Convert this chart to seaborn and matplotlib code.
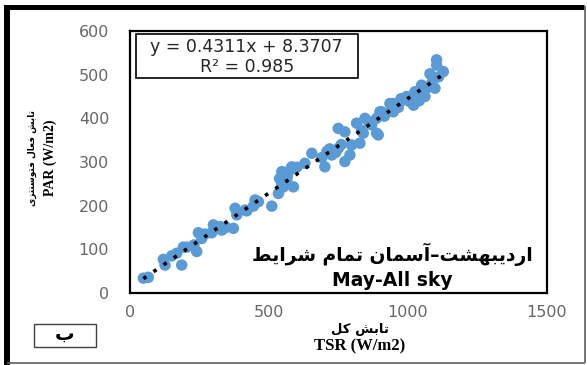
import matplotlib
matplotlib.use("Agg")
import matplotlib.pyplot as plt
import seaborn as sns
import pandas as pd
from matplotlib.patches import Rectangle
from matplotlib.lines import Line2D

# ---------------- data ----------------
tsr = [48, 66, 120, 126, 150, 168, 186, 192, 204, 230, 240, 246, 258, 270, 294,
       300, 310, 324, 330, 345, 372, 378, 384, 414, 420, 444, 462, 450, 510, 534,
       538, 546, 552, 560, 564, 546, 576, 588, 582, 566, 600, 629, 654, 690, 701,
       708, 718, 726, 740, 749, 749, 760, 773, 773, 791, 797, 815, 827, 839, 833,
       845, 860, 869, 887, 887, 893, 899, 905, 915, 935, 941, 947, 947, 960, 975,
       983, 995, 1007, 1025, 1030, 1049, 1055, 1061, 1068, 1079, 1085, 1090, 1097,
       1103, 1103, 1127, 1110, 1040, 1020, 965]
par = [34, 36, 77, 64, 85, 91, 64, 105, 105, 110, 95, 138, 125, 135, 138,
       156, 150, 152, 144, 150, 148, 194, 179, 190, 188, 199, 209, 213, 199, 228,
       262, 250, 243, 275, 259, 278, 282, 243, 289, 268, 288, 297, 320, 310, 289,
       324, 330, 316, 322, 331, 377, 340, 369, 301, 316, 339, 389, 343, 366, 373,
       400, 392, 385, 366, 400, 362, 415, 415, 405, 434, 423, 434, 415, 432, 445,
       442, 450, 438, 461, 452, 476, 461, 450, 470, 502, 480, 490, 469,
       534, 522, 507, 495, 440, 430, 425]
x_ticks = [0, 500, 1000, 1500]
y_ticks = [0, 100, 200, 300, 400, 500, 600]

eq_text = "y = 0.4311x + 8.3707"
r2_text = "R\u00b2 = 0.985"

# Persian texts (presentation forms, logical order; reversed for display)
ylab_fa = ("\uFE97\uFE8E\uFE91\uFEB6 \uFED3\uFECC\uFE8E\uFEDD "
           "\uFED3\uFE98\uFEEE\uFEB3\uFEE8\uFE98\uFEB0\uFBFC")
ylab_en = "PAR (W/m2)"
xlab_fa = "\uFE97\uFE8E\uFE91\uFEB6 \uFB90\uFEDE"
xlab_en = "TSR (W/m2)"
title_fa = ("\uFE8D\uFEAD\uFEA9\uFBFE\uFE92\uFEEC\uFEB8\uFE96\u2013"
            "\uFE81\uFEB3\uFEE4\uFE8E\uFEE5 \uFE97\uFEE4\uFE8E\uFEE1 "
            "\uFEB7\uFEAE\uFE8D\uFBFE\uFEC2")
title_en = "May-All sky"
panel_fa = "\uFE8F"


def vis(s):
    return s[::-1]


df = pd.DataFrame({"TSR": tsr, "PAR": par})

sns.set_style("white")
plt.rcParams["font.family"] = ["DejaVu Sans"]

W, H = 587, 365
fig = plt.figure(figsize=(W / 100, H / 100), dpi=100)
ax = fig.add_axes([130 / W, 1 - 293 / H, 417 / W, 262 / H])

sns.regplot(data=df, x="TSR", y="PAR", ax=ax, ci=None,
            scatter_kws=dict(s=68, color="#5B9BD5", edgecolor="none", alpha=1, zorder=2),
            line_kws=dict(color="black", linestyle=(0, (1, 2.4)), linewidth=2.6, zorder=3))

ax.set_xlim(0, 1500)
ax.set_ylim(0, 600)
ax.set_xticks(x_ticks)
ax.set_yticks(y_ticks)
ax.set_xticklabels([str(v) for v in x_ticks])
ax.set_yticklabels([str(v) for v in y_ticks])
ax.tick_params(length=0, labelsize=11.5, labelcolor="#666666")
ax.tick_params(axis="y", pad=15)
ax.tick_params(axis="x", pad=8.5)
ax.set_xlabel("")
ax.set_ylabel("")
for sp in ax.spines.values():
    sp.set_visible(True)
    sp.set_color("black")
    sp.set_linewidth(1.6)

# equation box
ax.add_patch(Rectangle((0.014, 0.821), 0.533, 0.168, transform=ax.transAxes,
                       facecolor="white", edgecolor="black", linewidth=1.2, zorder=4))
ax.text(0.28, 0.938, eq_text, transform=ax.transAxes, ha="center", va="center",
        fontsize=12.5, color="#262626", zorder=5)
ax.text(0.28, 0.862, r2_text, transform=ax.transAxes, ha="center", va="center",
        fontsize=12.5, color="#262626", zorder=5)

# in-plot titles
ax.text(0.63, 0.149, vis(title_fa), transform=ax.transAxes, ha="center", va="center",
        fontsize=13.5, fontweight="bold", color="black", zorder=5)
ax.text(0.63, 0.046, title_en, transform=ax.transAxes, ha="center", va="center",
        fontsize=13.5, fontweight="bold", color="black", zorder=5)

# axis labels
fig.text(32 / W, 1 - 158 / H, vis(ylab_fa), rotation=90, ha="center", va="center",
         fontsize=6.5, fontweight="bold", color="black")
fig.text(50 / W, 1 - 158 / H, ylab_en, rotation=90, ha="center", va="center",
         fontsize=10, fontweight="bold", color="black", family="Liberation Serif")
fig.text(360 / W, 1 - 330 / H, vis(xlab_fa), ha="center", va="center",
         fontsize=9.5, fontweight="bold", color="black")
fig.text(360 / W, 1 - 346 / H, xlab_en, ha="center", va="center",
         fontsize=12, fontweight="bold", color="black", family="Liberation Serif")

# panel letter box
fig.patches.append(Rectangle((34 / W, 1 - 347 / H), 62 / W, 23 / H,
                             transform=fig.transFigure, facecolor="white",
                             edgecolor="#404040", linewidth=1.0))
fig.text(65 / W, 1 - 334 / H, panel_fa, ha="center", va="center",
         fontsize=14, fontweight="bold", color="black")

# outer frame
fig.lines.append(Line2D([4 / W, 584 / W], [1 - 6.5 / H, 1 - 6.5 / H],
                        transform=fig.transFigure, color="black", linewidth=3.6,
                        solid_capstyle="butt"))
fig.lines.append(Line2D([7 / W, 7 / W], [1 - 4.5 / H, 1 - 365 / H],
                        transform=fig.transFigure, color="black", linewidth=4.3,
                        solid_capstyle="butt"))
fig.lines.append(Line2D([585 / W, 585 / W], [1 - 6 / H, 1 - 363 / H],
                        transform=fig.transFigure, color="#606060", linewidth=1.2,
                        solid_capstyle="butt"))
fig.lines.append(Line2D([7 / W, 585 / W], [1 - 362.5 / H, 1 - 362.5 / H],
                        transform=fig.transFigure, color="#606060", linewidth=1.2,
                        solid_capstyle="butt"))

fig.savefig("out.png", dpi=100, facecolor="white")
